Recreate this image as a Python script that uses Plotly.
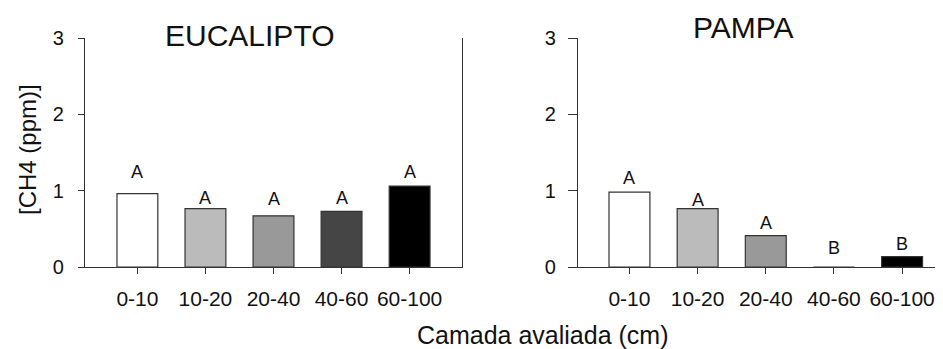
import plotly.graph_objects as go

categories = ["0-10", "10-20", "20-40", "40-60", "60-100"]
eucalipto_values = [0.96, 0.765, 0.67, 0.73, 1.06]
pampa_values = [0.98, 0.765, 0.41, 0.0, 0.135]
eucalipto_letters = ["A", "A", "A", "A", "A"]
pampa_letters = ["A", "A", "A", "B", "B"]
eucalipto_letter_y = [1.24, 0.91, 0.89, 0.91, 1.24]
pampa_letter_y = [1.17, 0.88, 0.58, 0.25, 0.30]
bar_colors = ["#ffffff", "#bbbbbb", "#999999", "#454545", "#000000"]
y_ticks = [0, 1, 2, 3]
panel_titles = ["EUCALIPTO", "PAMPA"]
x_title = "Camada avaliada (cm)"
y_title = "[CH4 (ppm)]"

# page body has an 8px default margin; the figure is sized to fit the window
OFF = 8
W, H = 943 - OFF, 349 - OFF
FONT = "Liberation Sans, Arial, sans-serif"
AX = "#333333"

def px_x(p):
    return (p - OFF) / W

def px_y(p):
    return (H - (p - OFF)) / H

fig = go.Figure()
x_idx = list(range(len(categories)))

fig.add_trace(go.Bar(x=x_idx, y=eucalipto_values, width=0.6,
                     marker=dict(color=bar_colors, line=dict(color=AX, width=1.2)),
                     xaxis="x", yaxis="y", showlegend=False, hoverinfo="skip"))
fig.add_trace(go.Bar(x=x_idx, y=pampa_values, width=0.6,
                     marker=dict(color=bar_colors, line=dict(color=AX, width=1.2)),
                     xaxis="x2", yaxis="y2", showlegend=False, hoverinfo="skip"))

ydom = [px_y(267), px_y(38)]
common_x = dict(tickmode="array", tickvals=x_idx, ticktext=categories,
                showline=True, linecolor=AX, linewidth=1.2, ticks="outside",
                ticklen=6, tickcolor=AX, tickwidth=1.2, showgrid=False, zeroline=False,
                tickfont=dict(family=FONT, size=21, color="#111111"),
                automargin=False, fixedrange=True, ticklabelstandoff=7)
common_y = dict(range=[0, 3], tickmode="array", tickvals=y_ticks,
                showline=True, linecolor=AX, linewidth=1.2, ticks="outside",
                tickcolor=AX, tickwidth=1.2, showgrid=False, zeroline=False,
                tickfont=dict(family=FONT, size=20, color="#111111"),
                automargin=False, fixedrange=True, domain=ydom)

fig.update_layout(
    width=W, height=H,
    margin=dict(l=0, r=0, t=0, b=0),
    paper_bgcolor="white", plot_bgcolor="white",
    bargap=0.4,
    xaxis=dict(domain=[px_x(85), px_x(462)], range=[-0.77, 4.77], anchor="y", **common_x),
    yaxis=dict(anchor="x", ticklen=6, mirror=True, ticklabelstandoff=10, **common_y),
    xaxis2=dict(domain=[px_x(578), 1.0], range=[-0.755, 4.6], anchor="y2", **common_x),
    yaxis2=dict(anchor="x2", ticklen=9, ticklabelstandoff=8, **common_y),
)

annotations = []
for i, (lab, ly) in enumerate(zip(eucalipto_letters, eucalipto_letter_y)):
    annotations.append(dict(x=i, y=ly, xref="x", yref="y", text=lab, showarrow=False,
                            font=dict(family=FONT, size=18, color="#111111"),
                            xanchor="center", yanchor="middle"))
for i, (lab, ly) in enumerate(zip(pampa_letters, pampa_letter_y)):
    annotations.append(dict(x=i, y=ly, xref="x2", yref="y2", text=lab, showarrow=False,
                            font=dict(family=FONT, size=18, color="#111111"),
                            xanchor="center", yanchor="middle"))

annotations.append(dict(x=px_x(250), y=px_y(35), xref="paper", yref="paper",
                        text=panel_titles[0], showarrow=False,
                        font=dict(family=FONT, size=30, color="#111111"),
                        xanchor="center", yanchor="middle"))
annotations.append(dict(x=px_x(743), y=px_y(28), xref="paper", yref="paper",
                        text=panel_titles[1], showarrow=False,
                        font=dict(family=FONT, size=30, color="#111111"),
                        xanchor="center", yanchor="middle"))
annotations.append(dict(x=px_x(543), y=px_y(335), xref="paper", yref="paper",
                        text=x_title, showarrow=False,
                        font=dict(family=FONT, size=25, color="#111111"),
                        xanchor="center", yanchor="middle"))
annotations.append(dict(x=px_x(27), y=px_y(150), xref="paper", yref="paper",
                        text=y_title, showarrow=False, textangle=-90,
                        font=dict(family=FONT, size=24, color="#111111"),
                        xanchor="center", yanchor="middle"))
fig.update_layout(annotations=annotations)

fig.write_html("out.html")
